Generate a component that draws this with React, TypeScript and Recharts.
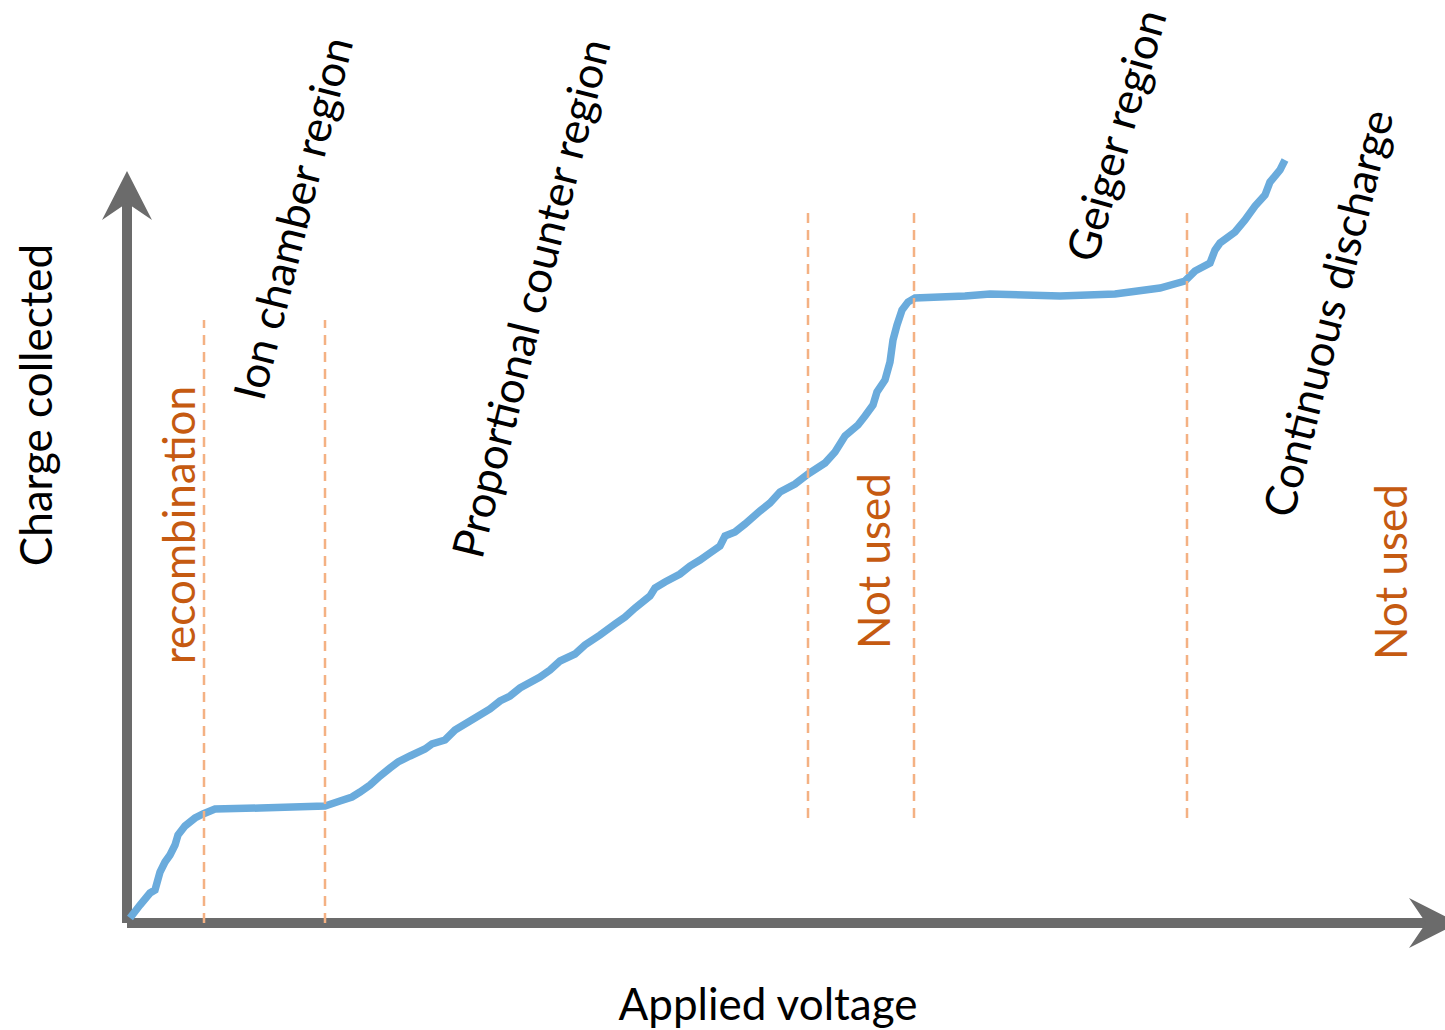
import { LineChart, Line, XAxis, YAxis, ReferenceLine, ReferenceDot } from "recharts";

// applied voltage (arbitrary units) vs. charge collected (arbitrary units)
const VOLTAGE = [
  3, 13, 23, 28, 33, 38, 43, 48, 51, 58, 68, 76, 88, 133, 198, 213, 225, 233, 243, 253,
  263, 271, 283, 298, 305, 318, 328, 343, 363, 373, 383, 393, 413, 423, 433, 448, 458, 473,
  488, 498, 508, 523, 528, 538, 553, 563, 573, 583, 593, 598, 608, 618, 633, 643, 653, 668,
  681, 698, 708, 718, 731, 738, 746, 750, 758, 763, 766, 770, 775, 781, 788, 838, 863, 933,
  988, 1003, 1033, 1058, 1068, 1083, 1088, 1093, 1108, 1118, 1128, 1138, 1143, 1153, 1158,
];
const CHARGE = [
  5, 18, 30, 33, 51, 61, 68, 78, 88, 97, 105, 109, 114, 115, 117, 122, 126, 131, 138, 147,
  155, 161, 167, 174, 179, 183, 193, 202, 214, 222, 227, 235, 246, 253, 262, 269, 278, 288,
  299, 306, 315, 327, 335, 341, 349, 357, 363, 370, 377, 387, 391, 399, 412, 420, 431, 439,
  449, 460, 471, 487, 498, 507, 518, 531, 543, 561, 583, 598, 613, 621, 625, 627, 629, 627,
  629, 631, 635, 642, 652, 660, 673, 680, 691, 703, 717, 728, 741, 753, 763,
];

// region boundaries: [voltage, bottom, top]
const BOUNDARIES: [number, number, number][] = [
  [77, 0, 603],
  [198, 0, 603],
  [681, 105, 711],
  [787, 105, 711],
  [1060, 105, 711],
];

const REGION_LABELS = [
  "recombination",
  "Ion chamber region",
  "Proportional counter region",
  "Not used",
  "Geiger region",
  "Continuous discharge",
  "Not used",
];

const data = VOLTAGE.map((v, i) => ({ v, q: CHARGE[i] }));

const X_MAX = 1318;
const Y_MAX = 780;
const AXIS_TOP = 752;
const AXIS_RIGHT = 1331;

const GRAY = "#6b6b6b";
const BLUE = "#6aabdc";
const PEACH = "#f4b183";
const ORANGE = "#c55a11";
const FONT = "Lato, 'Open Sans', sans-serif";

// layout of the annotations (data coords)
const LABEL_LAYOUT = [
  { x: 51, y: 398, angle: -90, color: ORANGE },
  { x: 165, y: 705, angle: -76, color: "#000" },
  { x: 403, y: 625, angle: -76, color: "#000" },
  { x: 746, y: 362, angle: -90, color: ORANGE },
  { x: 988, y: 788, angle: -74, color: "#000" },
  { x: 1200, y: 610, angle: -76, color: "#000" },
  { x: 1263, y: 351, angle: -90, color: ORANGE },
];

const AxisArrow = (props: any) => {
  const { x1, y1, x2, y2 } = props;
  const dx = x2 - x1;
  const dy = y2 - y1;
  const len = Math.hypot(dx, dy);
  const ux = dx / len;
  const uy = dy / len;
  const px = -uy;
  const py = ux;
  const L = 49;
  const W = 25;
  const N = 32;
  const bx = x2 - ux * L;
  const by = y2 - uy * L;
  const nx = x2 - ux * N;
  const ny = y2 - uy * N;
  const pts = [
    [x2, y2],
    [bx + px * W, by + py * W],
    [nx, ny],
    [bx - px * W, by - py * W],
  ]
    .map((p) => p.join(","))
    .join(" ");
  return (
    <g>
      <line x1={x1} y1={y1} x2={nx + ux * 2} y2={ny + uy * 2} stroke={GRAY} strokeWidth={10} />
      <polygon points={pts} fill={GRAY} />
    </g>
  );
};

const makeText = (text: string, angle: number, color: string) => (props: any) => {
  const { cx, cy } = props;
  return (
    <text
      x={cx}
      y={cy}
      textAnchor="middle"
      dominantBaseline="central"
      transform={`rotate(${angle}, ${cx}, ${cy})`}
      fill={color}
      fontFamily={FONT}
      fontSize={44}
    >
      {text}
    </text>
  );
};

export default function App() {
  return (
    <div style={{ position: "absolute", left: 0, top: 0, background: "#fff" }}>
      <LineChart
        width={1445}
        height={1030}
        data={data}
        margin={{ top: 923 - Y_MAX, right: 0, bottom: 1030 - 923, left: 127 }}
      >
        <XAxis type="number" dataKey="v" domain={[0, X_MAX]} hide />
        <YAxis type="number" domain={[0, Y_MAX]} hide />
        <ReferenceLine
          segment={[{ x: 0, y: 0 }, { x: 0, y: AXIS_TOP }]}
          ifOverflow="visible"
          shape={AxisArrow}
        />
        <ReferenceLine
          segment={[{ x: 0, y: 0 }, { x: AXIS_RIGHT, y: 0 }]}
          ifOverflow="visible"
          shape={AxisArrow}
        />
        <Line
          type="linear"
          dataKey="q"
          stroke={BLUE}
          strokeWidth={7.5}
          dot={false}
          isAnimationActive={false}
        />
        {BOUNDARIES.map(([x, y0, y1], i) => (
          <ReferenceLine
            key={`b${i}`}
            segment={[{ x, y: y0 }, { x, y: y1 }]}
            stroke={PEACH}
            strokeWidth={2.5}
            strokeDasharray="10 7"
            ifOverflow="visible"
          />
        ))}
        {REGION_LABELS.map((t, i) => (
          <ReferenceDot
            key={`l${i}`}
            x={LABEL_LAYOUT[i].x}
            y={LABEL_LAYOUT[i].y}
            r={0}
            ifOverflow="visible"
            shape={makeText(t, LABEL_LAYOUT[i].angle, LABEL_LAYOUT[i].color)}
          />
        ))}
        <ReferenceDot
          x={-92}
          y={518}
          r={0}
          ifOverflow="visible"
          shape={makeText("Charge collected", -90, "#000")}
        />
        <ReferenceDot
          x={641}
          y={-80}
          r={0}
          ifOverflow="visible"
          shape={makeText("Applied voltage", 0, "#000")}
        />
      </LineChart>
    </div>
  );
}
